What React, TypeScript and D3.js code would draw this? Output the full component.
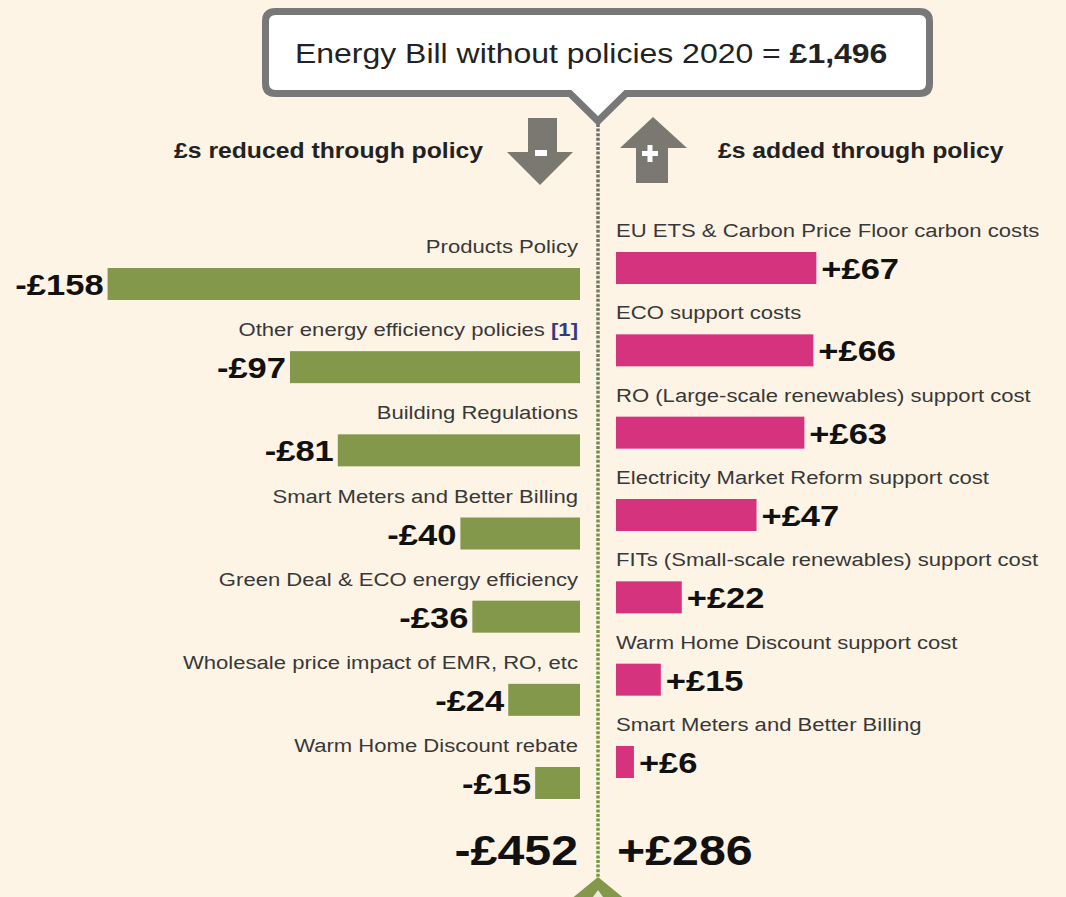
import React from "react";
import * as d3 from "d3";

// policies that take money off the 2020 bill
const reducedLabels = [
  "Products Policy",
  "Other energy efficiency policies",
  "Building Regulations",
  "Smart Meters and Better Billing",
  "Green Deal & ECO energy efficiency",
  "Wholesale price impact of EMR, RO, etc",
  "Warm Home Discount rebate",
];
const reducedValues = [158, 97, 81, 40, 36, 24, 15];

// policies that add money to the bill
const addedLabels = [
  "EU ETS & Carbon Price Floor carbon costs",
  "ECO support costs",
  "RO (Large-scale renewables) support cost",
  "Electricity Market Reform support cost",
  "FITs (Small-scale renewables) support cost",
  "Warm Home Discount support cost",
  "Smart Meters and Better Billing",
];
const addedValues = [67, 66, 63, 47, 22, 15, 6];

const totals = [452, 286];
const billWithout = 1496;

const W = 1066;
const H = 897;
const MID = 598;
const SX = 1.15; // source text is set a little wide
const FONT = "'Liberation Sans', Arial, Helvetica, sans-serif";
const BG = "#fdf4e5";
const GREEN = "#83984a";
const PINK = "#d6337f";
const GREY = "#7b7871";

const App = () => {
  const x = d3.scaleLinear().domain([0, 160]).range([0, 160 * 2.99]);
  const leftEnd = 580;
  const rightStart = 616;
  const barH = 32;

  const yLeft = d3
    .scalePoint<number>()
    .domain(d3.range(reducedLabels.length))
    .range([246, 745]);
  const yRight = d3
    .scalePoint<number>()
    .domain(d3.range(addedLabels.length))
    .range([230, 724]);

  const fmt = d3.format(",");

  const txt = (
    px: number,
    py: number,
    anchor: string,
    size: number,
    weight: string,
    fill: string,
    content: React.ReactNode,
    key?: string
  ) => (
    <text
      key={key}
      transform={`translate(${px},${py}) scale(${SX},1)`}
      textAnchor={anchor}
      fontSize={size}
      fontWeight={weight}
      fill={fill}
      fontFamily={FONT}
    >
      {content}
    </text>
  );

  return (
    <svg
      width={W}
      height={H}
      style={{ position: "absolute", left: 0, top: 0, background: BG }}
    >
      <defs>
        <linearGradient id="dots" x1="0" y1="0" x2="0" y2="1">
          <stop offset="0%" stopColor="#6f6d68" />
          <stop offset="35%" stopColor="#75805c" />
          <stop offset="60%" stopColor="#7a934a" />
          <stop offset="100%" stopColor="#7a9742" />
        </linearGradient>
        <mask id="dm">
          <line
            x1={MID}
            x2={MID}
            y1={124}
            y2={880}
            stroke="#fff"
            strokeWidth={3.5}
            strokeDasharray="3 1.6"
          />
        </mask>
      </defs>
      <rect width={W} height={H} fill={BG} />

      {/* centre dotted divider */}
      <rect x={MID - 2} y={124} width={4} height={756} fill="url(#dots)" mask="url(#dm)" />

      {/* callout */}
      <path
        d={`M275.5,11.5 H919.5 Q929.5,11.5 929.5,21.5 V83.5 Q929.5,93.5 919.5,93.5 H626 L${MID},121 L570,93.5 H275.5 Q265.5,93.5 265.5,83.5 V21.5 Q265.5,11.5 275.5,11.5 Z`}
        fill="#fff"
        stroke="#787878"
        strokeWidth={7}
        strokeLinejoin="miter"
      />
      {txt(
        295,
        63,
        "start",
        27.8,
        "normal",
        "#222",
        <>
          Energy Bill without policies 2020 ={" "}
          <tspan fontWeight="bold">£{fmt(billWithout)}</tspan>
        </>
      )}

      {/* direction arrows */}
      <rect x={528} y={118} width={29} height={35} fill={GREY} />
      <polygon points="507,152 573,152 540,185" fill={GREY} />
      <rect x={535} y={150} width={12} height={6} fill="#fff" />
      <polygon points="653,117 687,148 620,148" fill={GREY} />
      <rect x={636} y={147} width={32} height={36} fill={GREY} />
      <rect x={642} y={151} width={16} height={5} fill="#fff" />
      <rect x={647.5} y={145} width={5} height={17} fill="#fff" />

      {txt(483, 158, "end", 21.5, "bold", "#222", "£s reduced through policy")}
      {txt(718, 158, "start", 21.5, "bold", "#222", "£s added through policy")}

      {/* reduced bars */}
      {reducedLabels.map((lab, i) => {
        const cy = yLeft(i)!;
        const top = cy + 22;
        const w = x(reducedValues[i]);
        return (
          <g key={"l" + i}>
            {txt(
              578,
              cy + 7,
              "end",
              19.2,
              "normal",
              "#383838",
              i === 1 ? (
                <>
                  {lab}{" "}
                  <tspan fontWeight="bold" fill="#333a85">
                    [1]
                  </tspan>
                </>
              ) : (
                lab
              )
            )}
            <rect x={leftEnd - w} y={top} width={w} height={barH} fill={GREEN} />
            {txt(
              leftEnd - w - 4,
              top + barH / 2 + 11,
              "end",
              30,
              "bold",
              "#111",
              `-£${reducedValues[i]}`
            )}
          </g>
        );
      })}

      {/* added bars */}
      {addedLabels.map((lab, i) => {
        const cy = yRight(i)!;
        const top = cy + 22;
        const w = x(addedValues[i]);
        return (
          <g key={"r" + i}>
            {txt(616, cy + 7, "start", 19.2, "normal", "#383838", lab)}
            <rect x={rightStart} y={top} width={w} height={barH} fill={PINK} />
            {txt(
              rightStart + w + 5,
              top + barH / 2 + 11,
              "start",
              30,
              "bold",
              "#111",
              `+£${addedValues[i]}`
            )}
          </g>
        );
      })}

      {/* totals */}
      {txt(578, 865, "end", 42, "bold", "#111", `-£${totals[0]}`)}
      {txt(617, 865, "start", 42, "bold", "#111", `+£${totals[1]}`)}

      {/* bottom marker */}
      <polygon points={`${MID},877 ${MID + 28},900 ${MID - 28},900`} fill={GREEN} />
      <polygon points={`${MID},890 ${MID + 5},897 ${MID - 5},897`} fill="#e9ecd8" />
    </svg>
  );
};

export default App;
